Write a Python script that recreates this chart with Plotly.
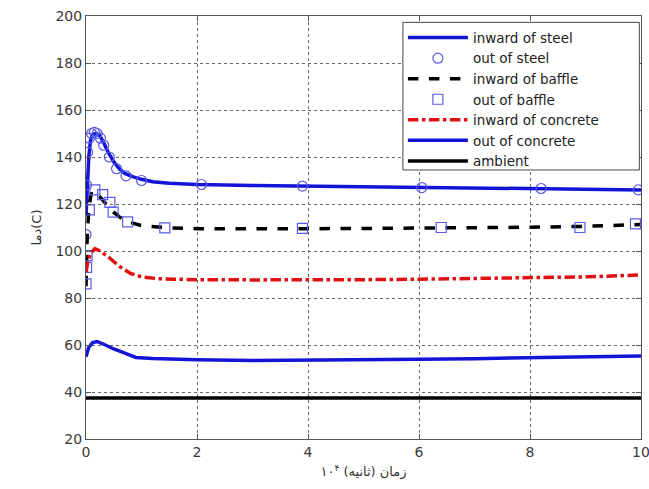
import plotly.graph_objects as go

# ---- data ----
t_steel_in = [0, 0.02, 0.05, 0.08, 0.12, 0.18, 0.25, 0.32, 0.4, 0.5, 0.6, 0.7, 0.85, 1.0, 1.2, 1.5, 2.0, 3.0, 4.0, 5.0, 6.0, 7.0, 8.0, 9.0, 10.0]
v_steel_in = [115, 128, 140, 147, 149.5, 150, 149, 146, 142, 138, 135, 133, 131.5, 130.5, 129.5, 128.8, 128.3, 127.9, 127.6, 127.3, 127, 126.8, 126.6, 126.3, 126]

t_steel_out = [0, 0.01, 0.03, 0.06, 0.1, 0.15, 0.2, 0.26, 0.32, 0.42, 0.55, 0.72, 1.0, 2.08, 3.9, 6.05, 8.2, 9.95]
v_steel_out = [107, 128, 142, 148, 150, 150.5, 150, 148, 145, 140, 135, 132, 130, 128.3, 127.6, 127, 126.6, 126]

t_baffle_in = [0, 0.02, 0.05, 0.1, 0.2, 0.3, 0.45, 0.6, 0.75, 1.0, 1.5, 2.0, 3.0, 4.0, 5.0, 6.0, 7.0, 8.0, 9.0, 10.0]
v_baffle_in = [85, 105, 118, 125.5, 124.5, 121.5, 117.5, 114.5, 112.5, 110.8, 109.8, 109.5, 109.4, 109.5, 109.6, 109.7, 109.9, 110.1, 110.5, 111.3]

t_baffle_out = [0, 0.01, 0.02, 0.06, 0.16, 0.3, 0.43, 0.49, 0.75, 1.42, 3.9, 6.4, 8.9, 9.9]
v_baffle_out = [86, 93, 98, 117.5, 126, 124, 120.7, 116.5, 112.4, 109.8, 109.6, 110, 110, 111.5]

t_conc_in = [0, 0.03, 0.08, 0.16, 0.25, 0.4, 0.6, 0.8, 1.0, 1.3, 1.6, 2.0, 3.0, 4.0, 5.0, 6.0, 7.0, 8.0, 9.0, 10.0]
v_conc_in = [91, 95, 99, 101, 100, 97.5, 93.5, 90.5, 89, 88.2, 88, 87.8, 87.7, 87.6, 87.8, 88, 88.3, 88.6, 89, 89.8]

t_conc_out = [0, 0.05, 0.12, 0.2, 0.35, 0.5, 0.7, 0.9, 1.2, 1.6, 2.0, 3.0, 4.0, 5.0, 6.0, 7.0, 8.0, 9.0, 10.0]
v_conc_out = [55, 59, 61, 61.5, 60, 58.3, 56.5, 54.7, 54.3, 54, 53.7, 53.4, 53.5, 53.6, 53.9, 54.2, 54.6, 55, 55.3]

t_amb = [0, 10]
v_amb = [37.5, 37.5]

x_ticks = [0, 2, 4, 6, 8, 10]
y_ticks = [20, 40, 60, 80, 100, 120, 140, 160, 180, 200]

BLUE = "#1414d8"
FONT = "DejaVu Sans, sans-serif"

fig = go.Figure()
fig.add_trace(go.Scatter(x=t_steel_in, y=v_steel_in, mode="lines", name="inward of steel",
                         line=dict(color=BLUE, width=3.5)))
fig.add_trace(go.Scatter(x=t_steel_out, y=v_steel_out, mode="markers", name="out of steel",
                         marker=dict(symbol="circle-open", size=10, color="#5a5ae6", line=dict(width=1.2))))
fig.add_trace(go.Scatter(x=t_baffle_in, y=v_baffle_in, mode="lines", name="inward of baffle",
                         line=dict(color="black", width=3.5, dash="dash")))
fig.add_trace(go.Scatter(x=t_baffle_out, y=v_baffle_out, mode="markers", name="out of baffle",
                         marker=dict(symbol="square-open", size=10, color="#5a5ae6", line=dict(width=1.2))))
fig.add_trace(go.Scatter(x=t_conc_in, y=v_conc_in, mode="lines", name="inward of concrete",
                         line=dict(color="#e01010", width=3.5, dash="dashdot")))
fig.add_trace(go.Scatter(x=t_conc_out, y=v_conc_out, mode="lines", name="out of concrete",
                         line=dict(color=BLUE, width=3.5)))
fig.add_trace(go.Scatter(x=t_amb, y=v_amb, mode="lines", name="ambient",
                         line=dict(color="black", width=3.5)))

axis_common = dict(showline=True, linecolor="#555555", linewidth=1, mirror="ticks",
                   ticks="inside", ticklen=5, tickcolor="#555555",
                   showgrid=True, gridcolor="#666666", griddash="dot", gridwidth=1,
                   zeroline=False, ticklabeloverflow="allow", automargin=False,
                   tickfont=dict(family=FONT, size=14, color="#3a3a3a"))

fig.update_layout(
    width=649, height=489,
    margin=dict(l=86, r=8, t=16, b=50),
    paper_bgcolor="white", plot_bgcolor="white",
    showlegend=True,
    legend=dict(x=0.571, y=0.985, xanchor="left", yanchor="top",
                bgcolor="rgba(0,0,0,0)", borderwidth=0,
                font=dict(family=FONT, size=13.5, color="#222222"),
                itemwidth=60, tracegroupgap=0),
    shapes=[dict(type="rect", xref="paper", yref="paper",
                 x0=0.571, x1=0.997, y0=0.636, y1=0.985,
                 fillcolor="white", line=dict(color="#444444", width=1), layer="above")],
    xaxis=dict(range=[0, 10], tickvals=x_ticks,
               title=dict(text="زمان (ثانیه) ۱۰<sup>۴</sup>", standoff=8,
                          font=dict(family="DejaVu Sans, sans-serif", size=13, color="#333333")),
               **axis_common),
    yaxis=dict(range=[20, 200], tickvals=y_ticks,
               title=dict(text="دما(C)", standoff=10,
                          font=dict(family="DejaVu Sans, sans-serif", size=13, color="#333333")),
               **axis_common),
)

fig.write_html("out.html")
